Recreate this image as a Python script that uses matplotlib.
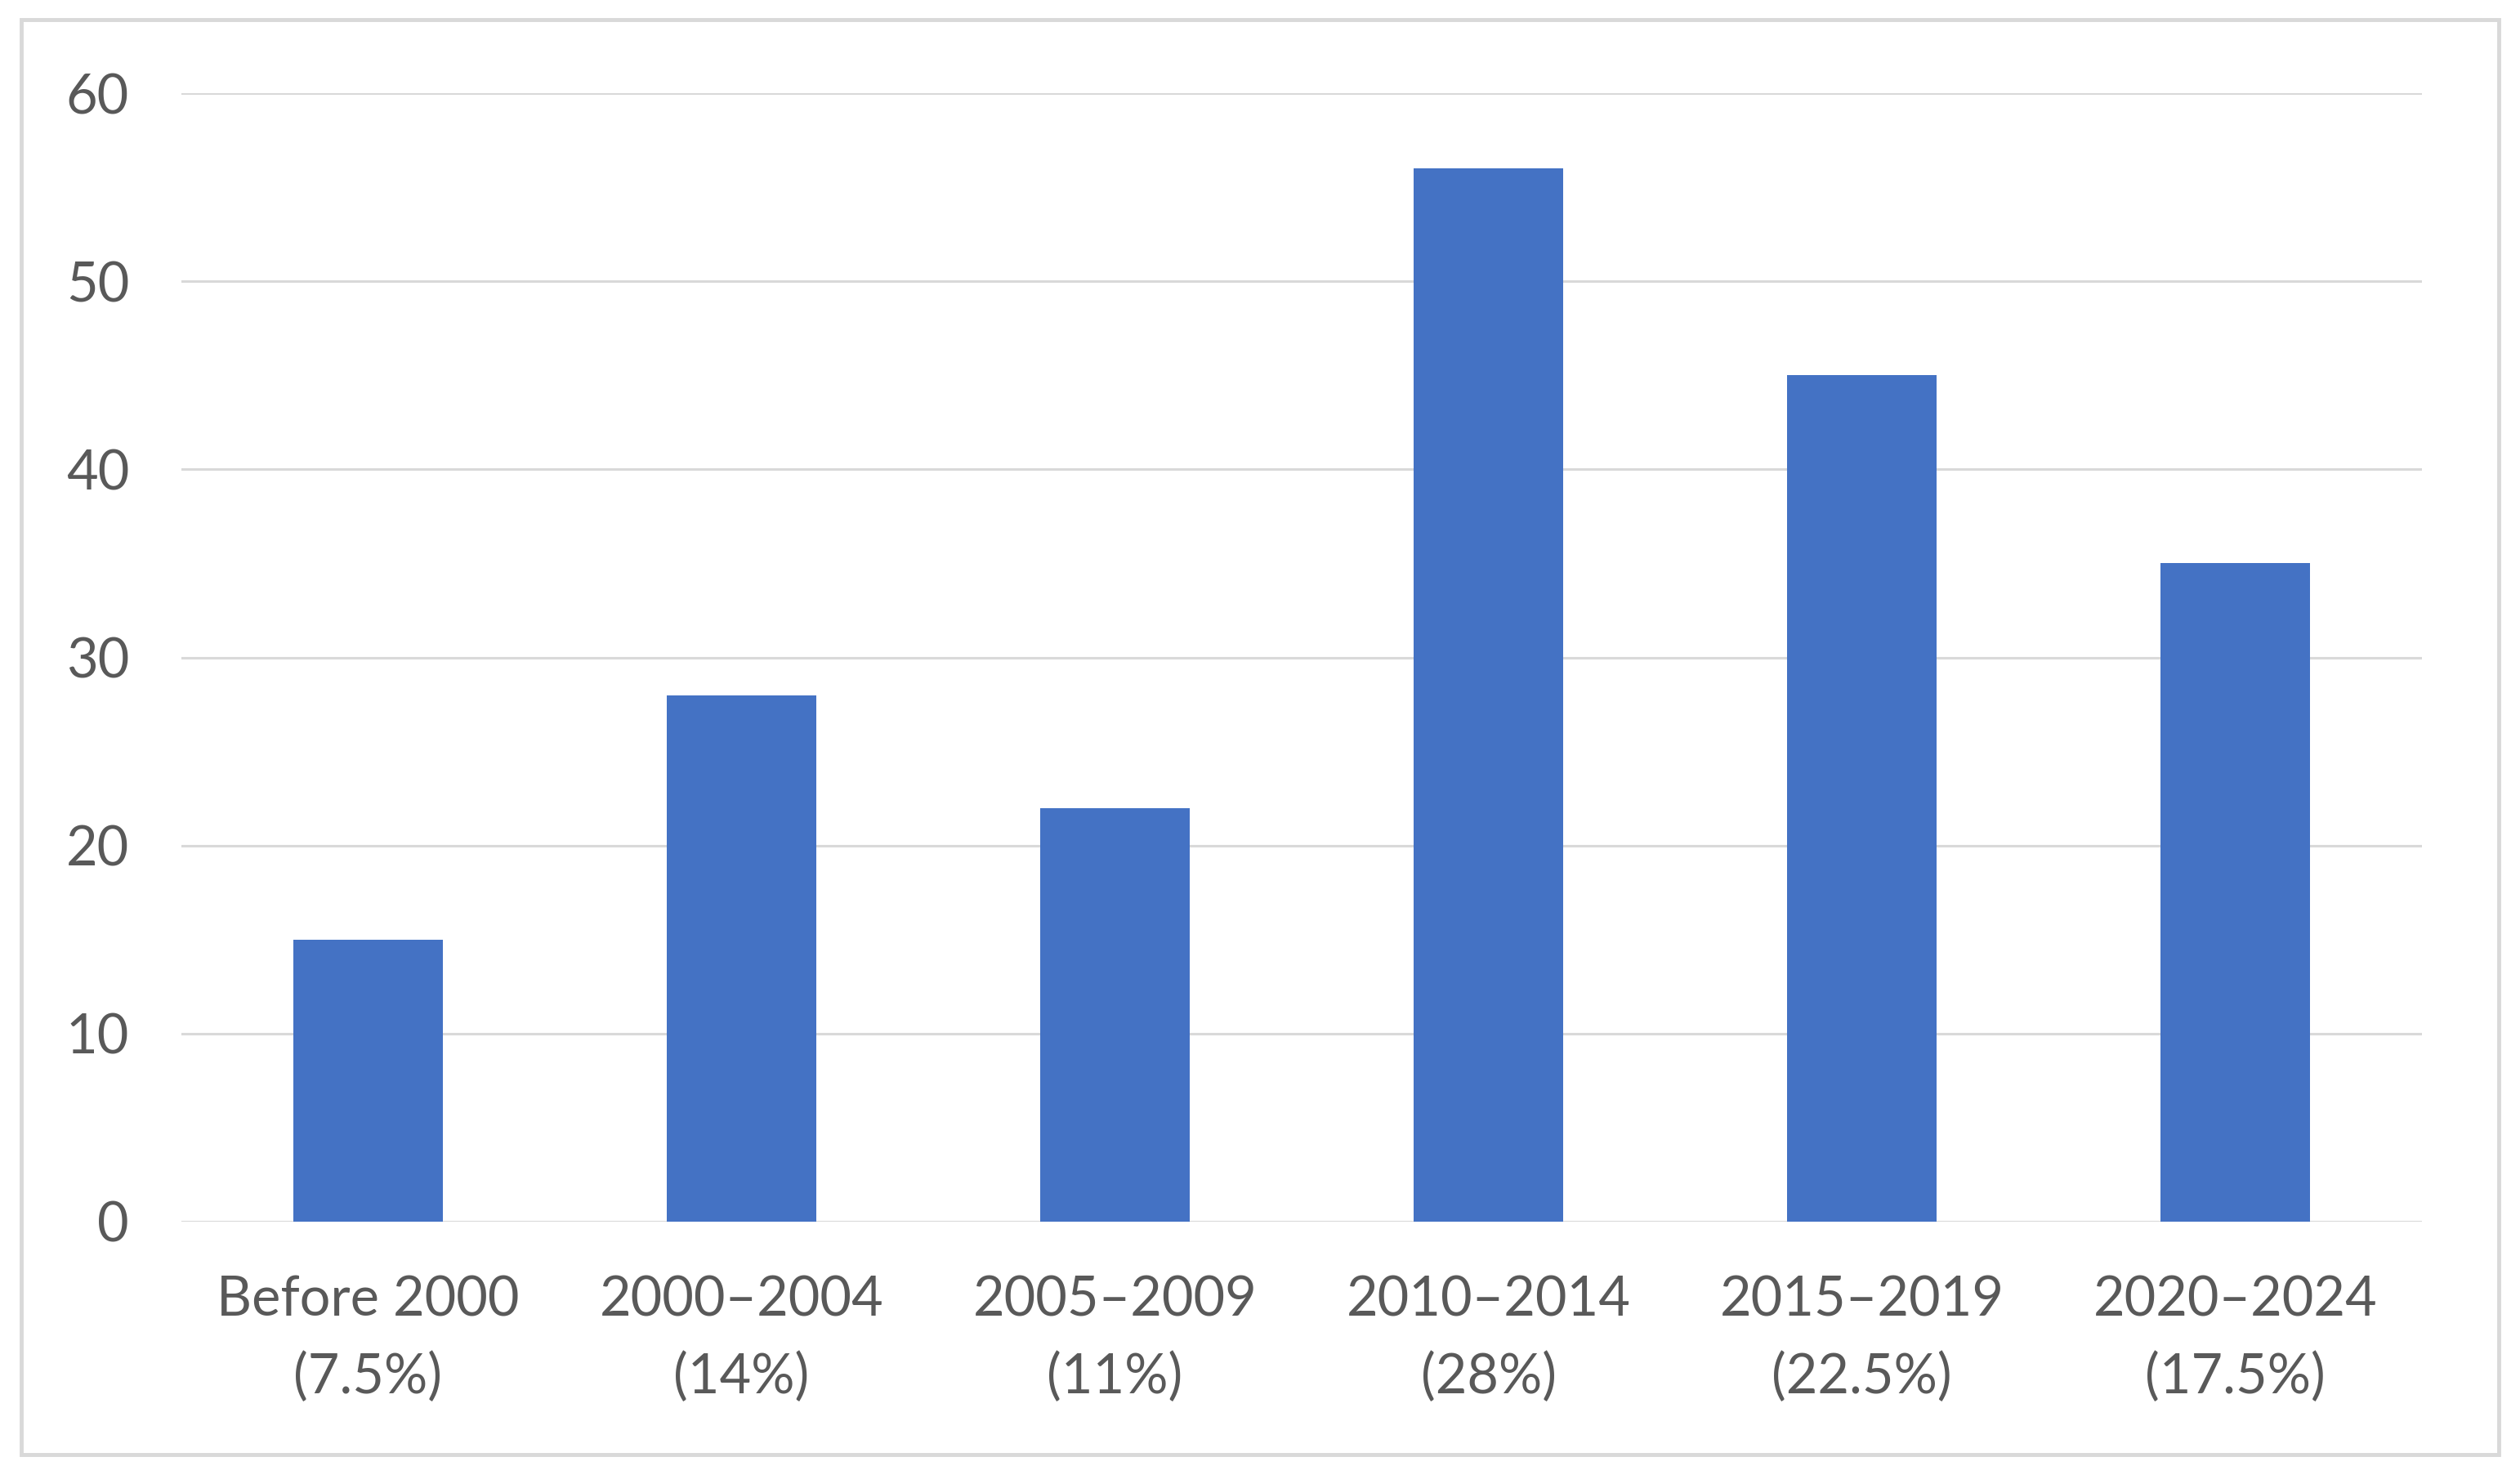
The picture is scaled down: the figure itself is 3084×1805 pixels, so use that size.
import matplotlib
matplotlib.use("Agg")
import matplotlib.pyplot as plt
from matplotlib.patches import Rectangle

categories = ["Before 2000\n(7.5%)", "2000–2004\n(14%)", "2005–2009\n(11%)",
              "2010–2014\n(28%)", "2015–2019\n(22.5%)", "2020–2024\n(17.5%)"]
values = [15, 28, 22, 56, 45, 35]
yticks = [0, 10, 20, 30, 40, 50, 60]

plt.rcParams['font.family'] = ['Lato', 'DejaVu Sans']

W, H = 3084, 1805
fig = plt.figure(figsize=(W / 100, H / 100), dpi=100)
fig.patch.set_facecolor("white")

# outer border
fig.patches.append(Rectangle((26 / W, 1 - 1780 / H), (3058 - 26) / W, (1780 - 24) / H,
                             transform=fig.transFigure, fill=False,
                             edgecolor="#d9d9d9", linewidth=3.5))

left, right = 222 / W, 2964 / W
top, bottom = 1 - 114 / H, 1 - 1495 / H
ax = fig.add_axes([left, bottom, right - left, top - bottom])

x = list(range(len(categories)))
ax.bar(x, values, width=0.40, color="#4472C4", zorder=3)
ax.set_xlim(-0.5, len(categories) - 0.5)
ax.set_ylim(0, 60)
ax.set_yticks(yticks)
ax.set_xticks(x)
ax.set_xticklabels(categories, linespacing=1.64)

for s in ax.spines.values():
    s.set_visible(False)
ax.grid(axis="y", color="#d9d9d9", linewidth=2.2, zorder=0)
ax.axhline(0, color="#d9d9d9", linewidth=2.2, zorder=2)
ax.tick_params(axis="both", length=0, colors="#595959", labelsize=48)
ax.tick_params(axis="y", pad=46)
ax.tick_params(axis="x", pad=47)

fig.savefig("out.png", dpi=100, facecolor="white")
